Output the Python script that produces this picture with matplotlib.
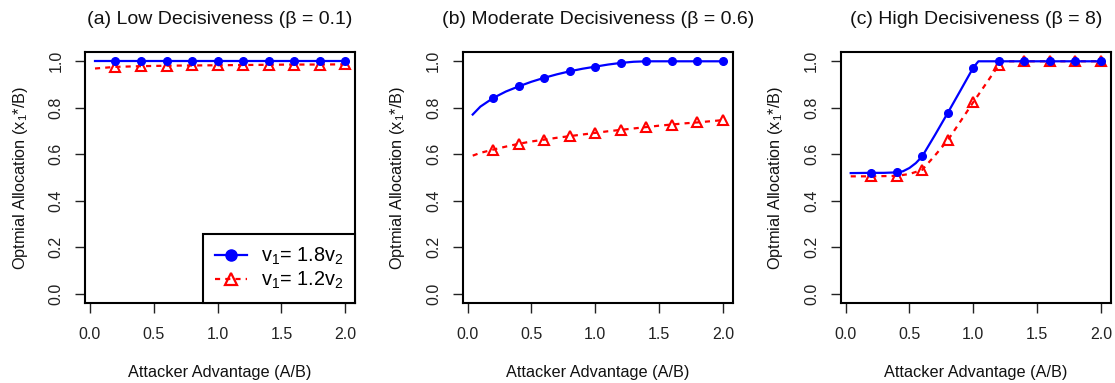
import numpy as np
import matplotlib
matplotlib.use("Agg")
import matplotlib.pyplot as plt
from matplotlib.lines import Line2D

plt.rcParams["font.family"] = ["Liberation Sans", "DejaVu Sans"]
plt.rcParams["mathtext.fontset"] = "custom"
plt.rcParams["mathtext.rm"] = "Liberation Sans"
plt.rcParams["mathtext.it"] = "Liberation Sans"
plt.rcParams["mathtext.default"] = "regular"

# ---- data -------------------------------------------------------------
titles = ["(a) Low Decisiveness (β = 0.1)",
          "(b) Moderate Decisiveness (β = 0.6)",
          "(c) High Decisiveness (β = 8)"]
series_labels = ["v$_1$= 1.8v$_2$", "v$_1$= 1.2v$_2$"]
x_label = "Attacker Advantage (A/B)"
y_label = "Optmial Allocation (x$_1$*/B)"
marker_x = [0.2, 0.4, 0.6, 0.8, 1.0, 1.2, 1.4, 1.6, 1.8, 2.0]

# (a) beta = 0.1
a_x = [0.04, 0.2, 0.4, 0.6, 0.8, 1.0, 1.2, 1.4, 1.6, 1.8, 2.0]
a_high = [1.0, 1.0, 1.0, 1.0, 1.0, 1.0, 1.0, 1.0, 1.0, 1.0, 1.0]
a_low = [0.969, 0.976, 0.979, 0.981, 0.982, 0.983, 0.984, 0.985, 0.986, 0.986, 0.987]

# (b) beta = 0.6
b_x = [0.04, 0.1, 0.2, 0.3, 0.4, 0.5, 0.6, 0.7, 0.8, 0.9, 1.0,
       1.1, 1.2, 1.3, 1.4, 1.5, 1.6, 1.7, 1.8, 1.9, 2.0]
b_high = [0.771, 0.805, 0.842, 0.870, 0.892, 0.912, 0.929, 0.944, 0.957, 0.968, 0.977,
          0.986, 0.993, 0.998, 1.0, 1.0, 1.0, 1.0, 1.0, 1.0, 1.0]
b_low = [0.594, 0.606, 0.620, 0.633, 0.645, 0.655, 0.663, 0.671, 0.678, 0.685, 0.692,
         0.699, 0.705, 0.711, 0.717, 0.723, 0.728, 0.733, 0.737, 0.742, 0.747]

# (c) beta = 8
c_x_high = [0.04, 0.2, 0.3, 0.4, 0.45, 0.5, 0.55, 0.6, 0.7, 0.8, 0.9, 1.0, 1.04,
            1.2, 1.4, 1.6, 1.8, 2.0]
c_high = [0.519, 0.520, 0.520, 0.522, 0.527, 0.541, 0.562, 0.591, 0.683, 0.778, 0.875, 0.973, 1.0,
          1.0, 1.0, 1.0, 1.0, 1.0]
c_x_low = [0.04, 0.2, 0.4, 0.5, 0.6, 0.7, 0.8, 0.9, 1.0, 1.1, 1.2, 1.22,
           1.4, 1.6, 1.8, 2.0]
c_low = [0.505, 0.505, 0.507, 0.515, 0.533, 0.595, 0.660, 0.742, 0.824, 0.904, 0.984, 1.0,
         1.0, 1.0, 1.0, 1.0]

panels = [
    (a_x, a_high, a_x, a_low),
    (b_x, b_high, b_x, b_low),
    (c_x_high, c_high, c_x_low, c_low),
]

# ---- styling ------------------------------------------------------------
BLUE = "#0000ff"
RED = "#ff0000"
LW = 1.6
DASH = (2.3, 2.3)


def at_markers(xs, ys):
    xs = np.asarray(xs)
    ys = np.asarray(ys)
    keep = np.array([np.any(np.isclose(x, marker_x)) for x in xs])
    return xs[keep], ys[keep]


fig = plt.figure(figsize=(11.15, 3.83), dpi=100)
lefts = [85 / 1115, 462.7 / 1115, 840.7 / 1115]
bottom = (383 - 303) / 383
width = 270.3 / 1115
height = 251 / 383

for i, (xh, yh, xl, yl) in enumerate(panels):
    ax = fig.add_axes([lefts[i], bottom, width, height])

    # lower-valuation series (dashed, open triangles)
    ax.plot(xl, yl, color=RED, lw=LW, linestyle=(0, DASH))
    mx, my = at_markers(xl, yl)
    ax.plot(mx, my, linestyle="none", marker="^", markersize=6.5,
            markerfacecolor="none", markeredgecolor=RED, markeredgewidth=1.5)

    # higher-valuation series (solid, filled circles)
    ax.plot(xh, yh, color=BLUE, lw=LW)
    mx, my = at_markers(xh, yh)
    ax.plot(mx, my, linestyle="none", marker="o", markersize=5.5,
            color=BLUE)

    ax.set_xlim(-0.0384, 2.0784)
    ax.set_ylim(-0.04, 1.04)
    ax.set_xticks([0.0, 0.5, 1.0, 1.5, 2.0])
    ax.set_xticklabels(["0.0", "0.5", "1.0", "1.5", "2.0"])
    ax.set_yticks([0.0, 0.2, 0.4, 0.6, 0.8, 1.0])
    ax.set_yticklabels(["0.0", "0.2", "0.4", "0.6", "0.8", "1.0"],
                       rotation=90, va="center")
    ax.tick_params(direction="out", length=7.5, width=1.0, labelsize=11.5,
                   color="#222222", labelcolor="#222222")
    ax.tick_params(axis="x", pad=10)
    ax.tick_params(axis="y", pad=8)
    for sp in ax.spines.values():
        sp.set_linewidth(1.5)
        sp.set_color("black")

    ax.set_title(titles[i], fontsize=14, pad=20, color="#111111")
    ax.set_xlabel(x_label, fontsize=11.7, labelpad=16.5, color="#111111")
    ax.set_ylabel(y_label, fontsize=11.7, labelpad=13.5, color="#111111")

    if i == 0:
        handles = [
            Line2D([], [], color=BLUE, lw=LW, marker="o", markersize=8),
            Line2D([], [], color=RED, lw=LW, linestyle=(0, DASH), marker="^",
                   markersize=8, markerfacecolor="none", markeredgewidth=1.6),
        ]
        leg = ax.legend(handles, series_labels, loc="lower right",
                        bbox_to_anchor=(1.0, 0.0), borderaxespad=0.0,
                        fontsize=14.3, fancybox=False, framealpha=1.0,
                        edgecolor="black", handlelength=1.6,
                        handletextpad=0.7, labelspacing=0.12,
                        borderpad=0.6)
        leg.get_frame().set_linewidth(1.5)

fig.savefig("out.png", dpi=100)
